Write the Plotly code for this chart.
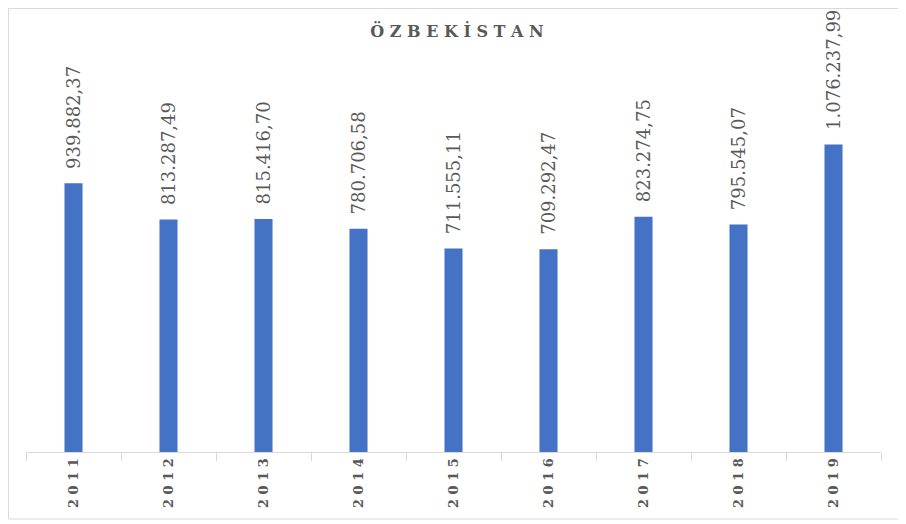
import plotly.graph_objects as go

years = ["2011", "2012", "2013", "2014", "2015", "2016", "2017", "2018", "2019"]
values = [939882.37, 813287.49, 815416.70, 780706.58, 711555.11, 709292.47, 823274.75, 795545.07, 1076237.99]
title_text = "ÖZBEKİSTAN"

# page body has an 8px offset; figure sized to fit the window
OFF = 8
W, H = 906 - OFF, 524 - OFF
ml, mr, mt, mb = 26 - OFF, 25, 109 - OFF, 72

spaced = lambda s, sep="\u2009": sep.join(list(s))

fig = go.Figure(go.Bar(
    x=years, y=values,
    marker=dict(color="#4472C4", line=dict(width=0)),
    width=0.19,
    texttemplate="\u00a0\u00a0%{y:,.2f}",
    textposition="outside",
    textangle=-90,
    constraintext="none",
    textfont=dict(family="DejaVu Serif", size=18, color="#595959"),
    cliponaxis=False,
))

fig.update_layout(
    width=W, height=H,
    margin=dict(l=ml, r=mr, t=mt, b=mb, autoexpand=False),
    paper_bgcolor="white", plot_bgcolor="white",
    separators=",.",
    showlegend=False,
    title=dict(text="<b>" + spaced(title_text, " ") + "</b>", x=0.5, xanchor="center",
               y=1 - (31 - OFF) / H, yanchor="middle", yref="container",
               font=dict(family="DejaVu Serif", size=16, color="#595959")),
    xaxis=dict(
        type="category", tickmode="array", tickvals=years,
        ticktext=["<b>" + spaced(y, " ") + "</b>" for y in years],
        tickangle=-90, tickson="boundaries", ticks="outside", ticklen=8,
        tickcolor="#d9d9d9", showline=True, linecolor="#d9d9d9", linewidth=1,
        showgrid=False, automargin=False,
        tickfont=dict(family="DejaVu Serif", size=13, color="#595959"),
        range=[-0.5, 8.5],
    ),
    yaxis=dict(range=[0, 1.2e6], visible=False, showgrid=False, zeroline=False, automargin=False),
)

# outer chart border
px_w = W - ml - mr
px_h = H - mt - mb
fig.add_shape(type="rect", xref="paper", yref="paper",
              x0=(0.5 - ml) / px_w, x1=(903 - OFF - ml) / px_w,
              y0=-(519 - OFF - (H - mb)) / px_h, y1=1 + (mt - 0.5) / px_h,
              line=dict(color="#d9d9d9", width=1), fillcolor="rgba(0,0,0,0)", layer="below")

fig.write_html("out.html")
